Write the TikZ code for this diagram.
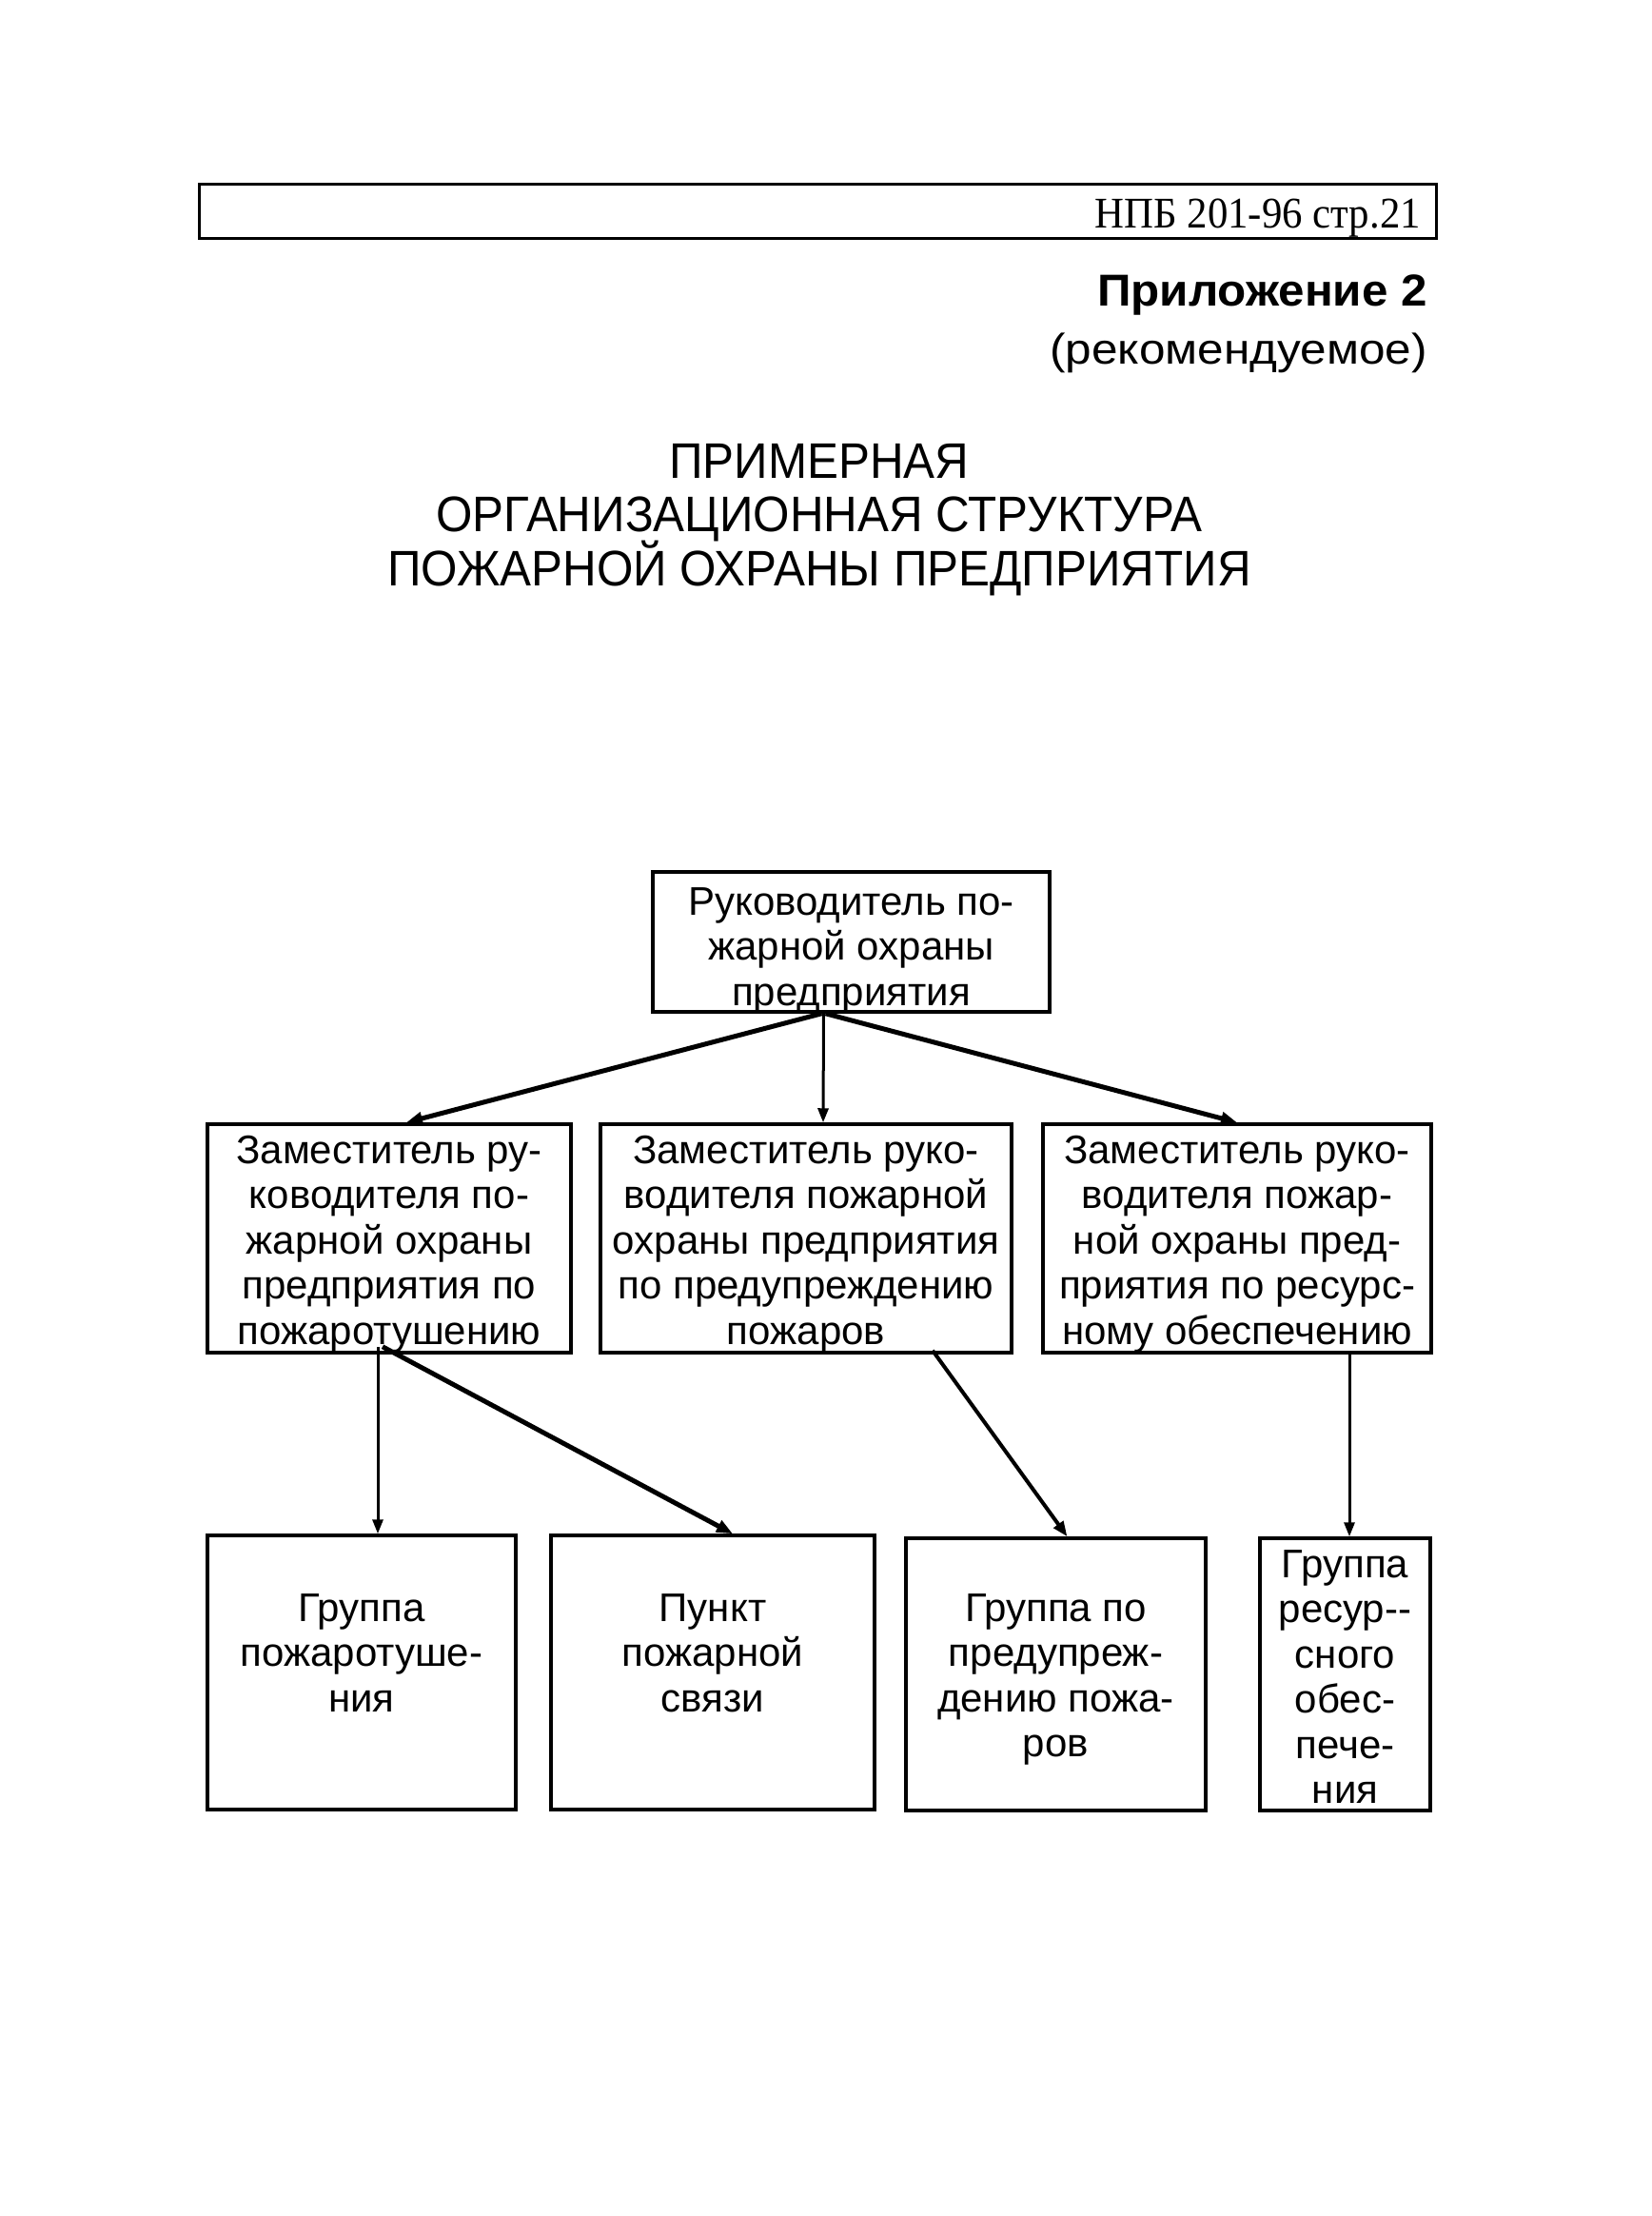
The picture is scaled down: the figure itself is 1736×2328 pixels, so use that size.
\documentclass[tikz,border=0pt]{standalone}
\usepackage{fontspec}
\setmainfont{Liberation Sans}
\newfontfamily\hdrfont[FakeStretch=0.93]{Liberation Serif}
\newfontfamily\ttlfont[FakeStretch=0.94]{Liberation Sans}
\newfontfamily\appfont[FakeStretch=1.05]{Liberation Sans}
\newfontfamily\recfont[FakeStretch=1.1]{Liberation Sans}
\usetikzlibrary{arrows.meta,calc}
\begin{document}
\begin{tikzpicture}[x=1pt,y=-1pt,
  frame/.style={draw, line width=3.5pt, inner sep=0pt, fill=none},
  btext/.style={anchor=north, inner sep=0pt, align=center, font=\fontsize{42}{47.5}\selectfont},
  thinarrow/.style={line width=3pt, -{Triangle[length=15pt,width=11pt]}},
  thickarrow/.style={line width=5pt, -{Triangle[length=17pt,width=13pt]}}]
\fill[white] (0,0) rectangle (1736,2328);
\useasboundingbox (0,0) rectangle (1736,2328);

% header
\node[draw, line width=3pt, inner sep=0pt, minimum width=1300pt, minimum height=56pt] (hdr) at (859,222) {};
\node[anchor=base east, inner sep=0pt, font=\hdrfont\fontsize{46}{50}\selectfont] (hdrtext) at (1493,239) {НПБ 201-96 стр.21};

\node[anchor=base east, inner sep=0pt, font=\appfont\bfseries\fontsize{47}{52}\selectfont] (app) at (1500,321) {Приложение 2};
\node[anchor=base east, inner sep=0pt, font=\recfont\fontsize{45}{50}\selectfont] (rec) at (1500,382) {(рекомендуемое)};

% title
\node[anchor=base, inner sep=0pt, font=\ttlfont\fontsize{52.5}{57}\selectfont] (t1) at (861,502) {ПРИМЕРНАЯ};
\node[anchor=base, inner sep=0pt, font=\ttlfont\fontsize{52.5}{57}\selectfont] (t2) at (861,558) {ОРГАНИЗАЦИОННАЯ СТРУКТУРА};
\node[anchor=base, inner sep=0pt, font=\ttlfont\fontsize{52.5}{57}\selectfont] (t3) at (861,615) {ПОЖАРНОЙ ОХРАНЫ ПРЕДПРИЯТИЯ};

% boxes
\node[frame, minimum width=417pt, minimum height=147pt] (top) at (894.5,989.5) {};
\node[frame, minimum width=382pt, minimum height=240pt] (d1) at (409,1301) {};
\node[frame, minimum width=432pt, minimum height=240pt] (d2) at (847,1301) {};
\node[frame, minimum width=408pt, minimum height=240pt] (d3) at (1300,1301) {};
\node[frame, minimum width=324pt, minimum height=288pt] (b1) at (380,1757) {};
\node[frame, minimum width=340pt, minimum height=288pt] (b2) at (749,1757) {};
\node[frame, minimum width=315pt, minimum height=286pt] (b3) at (1109.5,1759) {};
\node[frame, minimum width=179pt, minimum height=286pt] (b4) at (1413.5,1759) {};

% texts
\node[btext] (toptext) at (894.5,921) {\rule{0pt}{40pt}Руководитель по-\\жарной охраны\\предприятия};
\node[btext] (d1text) at (409,1182) {\rule{0pt}{40pt}Заместитель ру-\\ководителя по-\\жарной охраны\\предприятия по\\пожаротушению};
\node[btext] (d2text) at (847,1182) {\rule{0pt}{40pt}Заместитель руко-\\водителя пожарной\\охраны предприятия\\по предупреждению\\пожаров};
\node[btext] (d3text) at (1300,1182) {\rule{0pt}{40pt}Заместитель руко-\\водителя пожар-\\ной охраны пред-\\приятия по ресурс-\\ному обеспечению};
\node[btext] (b1text) at (380,1663) {\rule{0pt}{40pt}Группа\\пожаротуше-\\ния};
\node[btext] (b2text) at (749,1663) {\rule{0pt}{40pt}Пункт\\пожарной\\связи};
\node[btext] (b3text) at (1109.5,1663) {\rule{0pt}{40pt}Группа по\\предупреж-\\дению пожа-\\ров};
\node[btext] (b4text) at (1413.5,1617) {\rule{0pt}{40pt}Группа\\ресур-{}-\\сного\\обес-\\пече-\\ния};

% connectors
\draw[thickarrow] ([xshift=-31pt]top.south) -- ([xshift=18pt]d1.north);
\draw[thinarrow] ([xshift=-29pt]top.south) -- ([xshift=18pt]d2.north);
\draw[thickarrow] ([xshift=-27pt]top.south) -- (d3.north);
\draw[thinarrow] ([xshift=-12pt,yshift=8pt]d1.south) -- ([xshift=17pt]b1.north);
\draw[thickarrow] ([xshift=-7pt,yshift=8pt]d1.south) -- ([xshift=21pt]b2.north);
\draw[line width=4pt, -{Triangle[length=16pt,width=12pt]}] ([xshift=133pt,yshift=4pt]d2.south) -- ([xshift=12pt]b3.north);
\draw[thinarrow] ([xshift=118pt]d3.south) -- ([xshift=4.5pt]b4.north);
\end{tikzpicture}
\end{document}
